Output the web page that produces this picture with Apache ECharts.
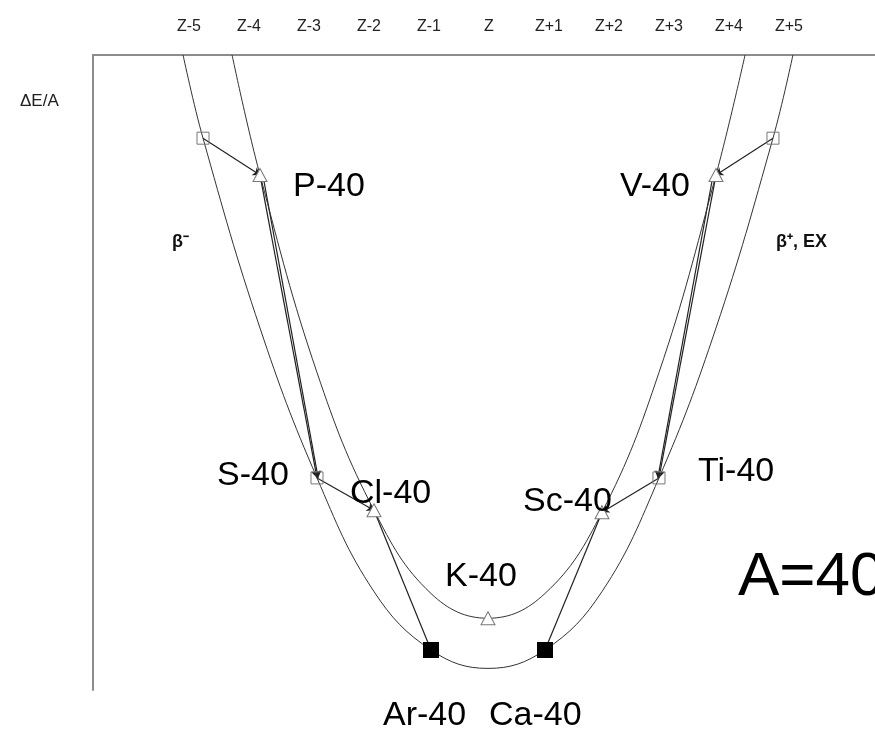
<!DOCTYPE html>
<html>
<head>
<meta charset="utf-8">
<script src="https://cdn.jsdelivr.net/npm/echarts@6/dist/echarts.min.js"></script>
<style>
    html, body { margin: 0; padding: 0; background: #fff; }
    #chart { width: 875px; height: 739px; }
</style>
</head>
<body>
<div id="chart"></div>
<script>
    // top scale labels
    var zLabels = ['Z-5', 'Z-4', 'Z-3', 'Z-2', 'Z-1', 'Z', 'Z+1', 'Z+2', 'Z+3', 'Z+4', 'Z+5'];

    // nuclides: position (Z offset) and energy (arbitrary, 0..100)
    var evenNames = ['', 'S-40', 'Ar-40', 'Ca-40', 'Ti-40', ''];
    var evenZ = [-5, -3, -1, 1, 3, 5];
    var evenE = [86.9, 33.4, 6.3, 6.3, 33.4, 86.9];
    var stable = [false, false, true, true, false, false];

    var oddNames = ['P-40', 'Cl-40', 'K-40', 'Sc-40', 'V-40'];
    var oddZ = [-4, -2, 0, 2, 4];
    var oddE = [81.1, 28.3, 11.3, 28.0, 81.1];

    // parabola through even-even nuclides
    var evenCurveZ = [-5.35, -5, -4, -3, -2, -1, 0, 1, 2, 3, 4, 5, 5.35];
    var evenCurveE = [100, 86.9, 57, 33.4, 15.5, 6.3, 3.4, 6.3, 15.5, 33.4, 57, 86.9, 100];

    // parabola through odd-odd nuclides
    var oddCurveZ = [-4.49, -4, -3, -2, -1, 0, 1, 2, 3, 4, 4.51];
    var oddCurveE = [100, 81.1, 50, 28.3, 15.2, 11.3, 15.2, 28.0, 50, 81.1, 100];

    // decay arrows: [fromZ, fromE, toZ, toE]
    var decays = [
        [-5, 86.9, -4, 81.1],
        [-4, 81.1, -3, 33.4],
        [-3.95, 81.1, -2.98, 33.4],
        [-3, 33.4, -2, 28.3],
        [-2, 28.3, -1, 6.3],
        [5, 86.9, 4, 81.1],
        [4, 81.1, 3, 33.4],
        [3.95, 81.1, 2.98, 33.4],
        [3, 33.4, 2, 28.0],
        [2, 28.0, 1, 6.3]
    ];

    var chart = echarts.init(document.getElementById('chart'));
    var FONT = '"Liberation Sans", Arial, sans-serif';

    var evenData = evenZ.map(function (z, i) { return [z, evenE[i]]; });
    var evenOpen = evenData.filter(function (d, i) { return !stable[i]; });
    var evenFilled = evenData.filter(function (d, i) { return stable[i]; });
    var oddData = oddZ.map(function (z, i) { return [z, oddE[i]]; });

    function label(text, left, top, size) {
        return { type: 'text', left: left, top: top, z: 100,
                 style: { text: text, font: (size || 34) + 'px ' + FONT, fill: '#000' } };
    }

    var option = {
        animation: false,
        grid: [
            { left: 93, right: 0, top: 55, bottom: 49 },
            { left: 159, width: 660, top: 55, height: 1 }
        ],
        xAxis: [
            {
                type: 'value', gridIndex: 0, position: 'top',
                min: -6.93, max: 6.79,
                axisLine: { show: true, onZero: false, lineStyle: { color: '#8c8c8c', width: 2 } },
                axisTick: { show: false }, axisLabel: { show: false }, splitLine: { show: false }
            },
            {
                type: 'category', gridIndex: 1, position: 'top', data: zLabels,
                axisLine: { show: false }, axisTick: { show: false }, splitLine: { show: false },
                axisLabel: { margin: 20, color: '#222', fontSize: 16, fontFamily: FONT }
            }
        ],
        yAxis: [
            {
                type: 'value', gridIndex: 0, min: 0, max: 100,
                axisLine: { show: true, onZero: false, lineStyle: { color: '#8c8c8c', width: 2 } },
                axisTick: { show: false }, axisLabel: { show: false }, splitLine: { show: false }
            },
            { type: 'value', gridIndex: 1, show: false }
        ],
        series: [
            {
                type: 'line', smooth: 0.4, showSymbol: false,
                data: evenCurveZ.map(function (z, i) { return [z, evenCurveE[i]]; }),
                lineStyle: { color: '#333', width: 1 }
            },
            {
                type: 'line', smooth: 0.4, showSymbol: false,
                data: oddCurveZ.map(function (z, i) { return [z, oddCurveE[i]]; }),
                lineStyle: { color: '#333', width: 1 }
            },
            {
                type: 'lines', coordinateSystem: 'cartesian2d',
                symbol: ['none', 'arrow'], symbolSize: 7,
                lineStyle: { color: '#222', width: 1.2, opacity: 1 },
                data: decays.map(function (d) { return { coords: [[d[0], d[1]], [d[2], d[3]]] }; }),
                z: 3
            },
            {
                type: 'scatter', symbol: 'rect', symbolSize: 12, data: evenOpen,
                itemStyle: { color: 'rgba(255,255,255,0)', borderColor: '#777', borderWidth: 1, opacity: 1 }, z: 4
            },
            {
                type: 'scatter', symbol: 'rect', symbolSize: 16, data: evenFilled,
                itemStyle: { color: '#000', opacity: 1 }, z: 4
            },
            {
                type: 'scatter', symbol: 'triangle', symbolSize: [14, 13], data: oddData,
                itemStyle: { color: '#fff', borderColor: '#777', borderWidth: 1, opacity: 1 }, z: 4
            }
        ],
        graphic: [
            { type: 'text', left: 20, top: 93, style: { text: 'ΔE/A', font: '17px ' + FONT, fill: '#222' } },
            { type: 'text', left: 172, top: 233, style: { text: 'β⁻', font: 'bold 18px ' + FONT, fill: '#111' } },
            { type: 'text', left: 776, top: 233, style: { text: 'β⁺, EX', font: 'bold 18px ' + FONT, fill: '#111' } },
            label(oddNames[0], 293, 170),
            label(oddNames[1], 350, 477),
            label(oddNames[2], 445, 560),
            label(oddNames[3], 523, 485),
            label(oddNames[4], 620, 170),
            label(evenNames[1], 217, 459),
            label(evenNames[4], 698, 455),
            label(evenNames[2], 383, 699),
            label(evenNames[3], 489, 699),
            label('A=40', 738, 547, 62)
        ]
    };
    chart.setOption(option);
</script>
</body>
</html>
